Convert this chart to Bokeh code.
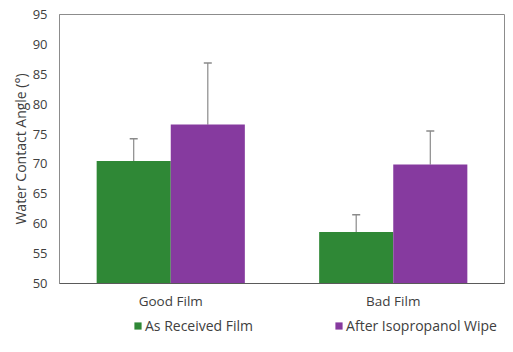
from bokeh.plotting import figure
from bokeh.models import (ColumnDataSource, FactorRange, Range1d, FixedTicker, Whisker,
                          TeeHead, Legend, LegendItem)
from bokeh.layouts import column
from bokeh.transform import dodge
from bokeh.embed import file_html
from bokeh.resources import INLINE

categories = ["Good Film", "Bad Film"]
as_received = [70.5, 58.6]
as_received_err = [3.7, 2.9]
after_wipe = [76.6, 69.9]
after_wipe_err = [10.3, 5.6]
series_names = ["As Received Film", "After Isopropanol Wipe"]
y_ticks = [50, 55, 60, 65, 70, 75, 80, 85, 90, 95]

FONT = "Open Sans"
TXT = "#404040"
GREEN = "#2f8836"
PURPLE = "#863a9f"

src = ColumnDataSource(dict(
    cat=categories,
    a=as_received, a_up=[v + e for v, e in zip(as_received, as_received_err)],
    a_lo=[v - e for v, e in zip(as_received, as_received_err)],
    b=after_wipe, b_up=[v + e for v, e in zip(after_wipe, after_wipe_err)],
    b_lo=[v - e for v, e in zip(after_wipe, after_wipe_err)],
))

p = figure(width=513, height=315, x_range=FactorRange(*categories, range_padding=0),
           y_range=Range1d(50, 95), output_backend="svg", toolbar_location=None,
           min_border_left=59, min_border_right=9, min_border_top=14, min_border_bottom=32)
p.x_range.range_padding = 0
p.grid.visible = False
p.background_fill_color = "white"
p.border_fill_color = "white"
p.outline_line_color = "#8c8c8c"
p.outline_line_width = 1

w = 0.333
r1 = p.vbar(x=dodge("cat", -w / 2, range=p.x_range), top="a", bottom=50, width=w, source=src,
            fill_color=GREEN, line_color=None)
r2 = p.vbar(x=dodge("cat", w / 2, range=p.x_range), top="b", bottom=50, width=w, source=src,
            fill_color=PURPLE, line_color=None)

ERR = "#8a8a8a"
for xcol, base, up, lo in [(-w / 2, "a", "a_up", "a_lo"), (w / 2, "b", "b_up", "b_lo")]:
    xd = dodge("cat", xcol, range=p.x_range)
    wh_up = Whisker(source=src, base=xd, upper=up, lower=base, line_color=ERR, line_width=1.2,
                    upper_head=TeeHead(size=8, line_color=ERR, line_width=1.5), lower_head=None)
    wh_lo = Whisker(source=src, base=xd, upper=base, lower=lo, line_color="#000000", line_alpha=0.18,
                    line_width=1.2, upper_head=None, lower_head=None)
    p.add_layout(wh_up)
    p.add_layout(wh_lo)

p.yaxis.ticker = FixedTicker(ticks=y_ticks)
p.yaxis.axis_label = "Water Contact Angle (°)"
p.yaxis.axis_label_text_font = FONT
p.yaxis.axis_label_text_font_style = "normal"
p.yaxis.axis_label_text_font_size = "14px"
p.yaxis.axis_label_text_color = TXT
p.yaxis.axis_label_standoff = 0
p.yaxis.major_label_text_font = FONT
p.yaxis.major_label_text_font_size = "13px"
p.yaxis.major_label_text_color = TXT
p.yaxis.major_label_standoff = 6
p.yaxis.major_tick_line_color = None
p.yaxis.minor_tick_line_color = None
p.yaxis.axis_line_color = "#8c8c8c"

p.xaxis.major_label_text_font = FONT
p.xaxis.major_label_text_font_size = "13.5px"
p.xaxis.major_label_text_color = TXT
p.xaxis.major_label_standoff = 2
p.xaxis.major_tick_line_color = None
p.xaxis.minor_tick_line_color = None
p.xaxis.axis_line_color = "#5a5a5a"

# legend in a small companion figure below the chart (frame aligned with the chart's frame)
lg = figure(width=513, height=37, output_backend="svg", toolbar_location=None,
            x_range=Range1d(0, 1), y_range=Range1d(0, 1),
            min_border_left=0, min_border_right=0, min_border_top=0, min_border_bottom=0)
lg.axis.visible = False
lg.grid.visible = False
lg.outline_line_color = None
lg.background_fill_color = "white"
lg.border_fill_color = "white"
lr1 = lg.vbar(x=[0.5], top=[0], bottom=[0], width=0.0, fill_color=GREEN, line_color=None)
lr2 = lg.vbar(x=[0.5], top=[0], bottom=[0], width=0.0, fill_color=PURPLE, line_color=None)

legend = Legend(items=[LegendItem(label=series_names[0], renderers=[lr1]),
                       LegendItem(label=series_names[1], renderers=[lr2])],
                orientation="horizontal", location=(74, 17), padding=0, margin=0,
                spacing=81, glyph_width=9, glyph_height=9, label_standoff=3,
                label_text_font=FONT, label_text_font_size="14px", label_text_color=TXT,
                label_height=9, border_line_color=None, background_fill_alpha=0)
lg.add_layout(legend)

layout = column(p, lg, spacing=0)
open("out.html", "w").write(file_html(layout, INLINE))
